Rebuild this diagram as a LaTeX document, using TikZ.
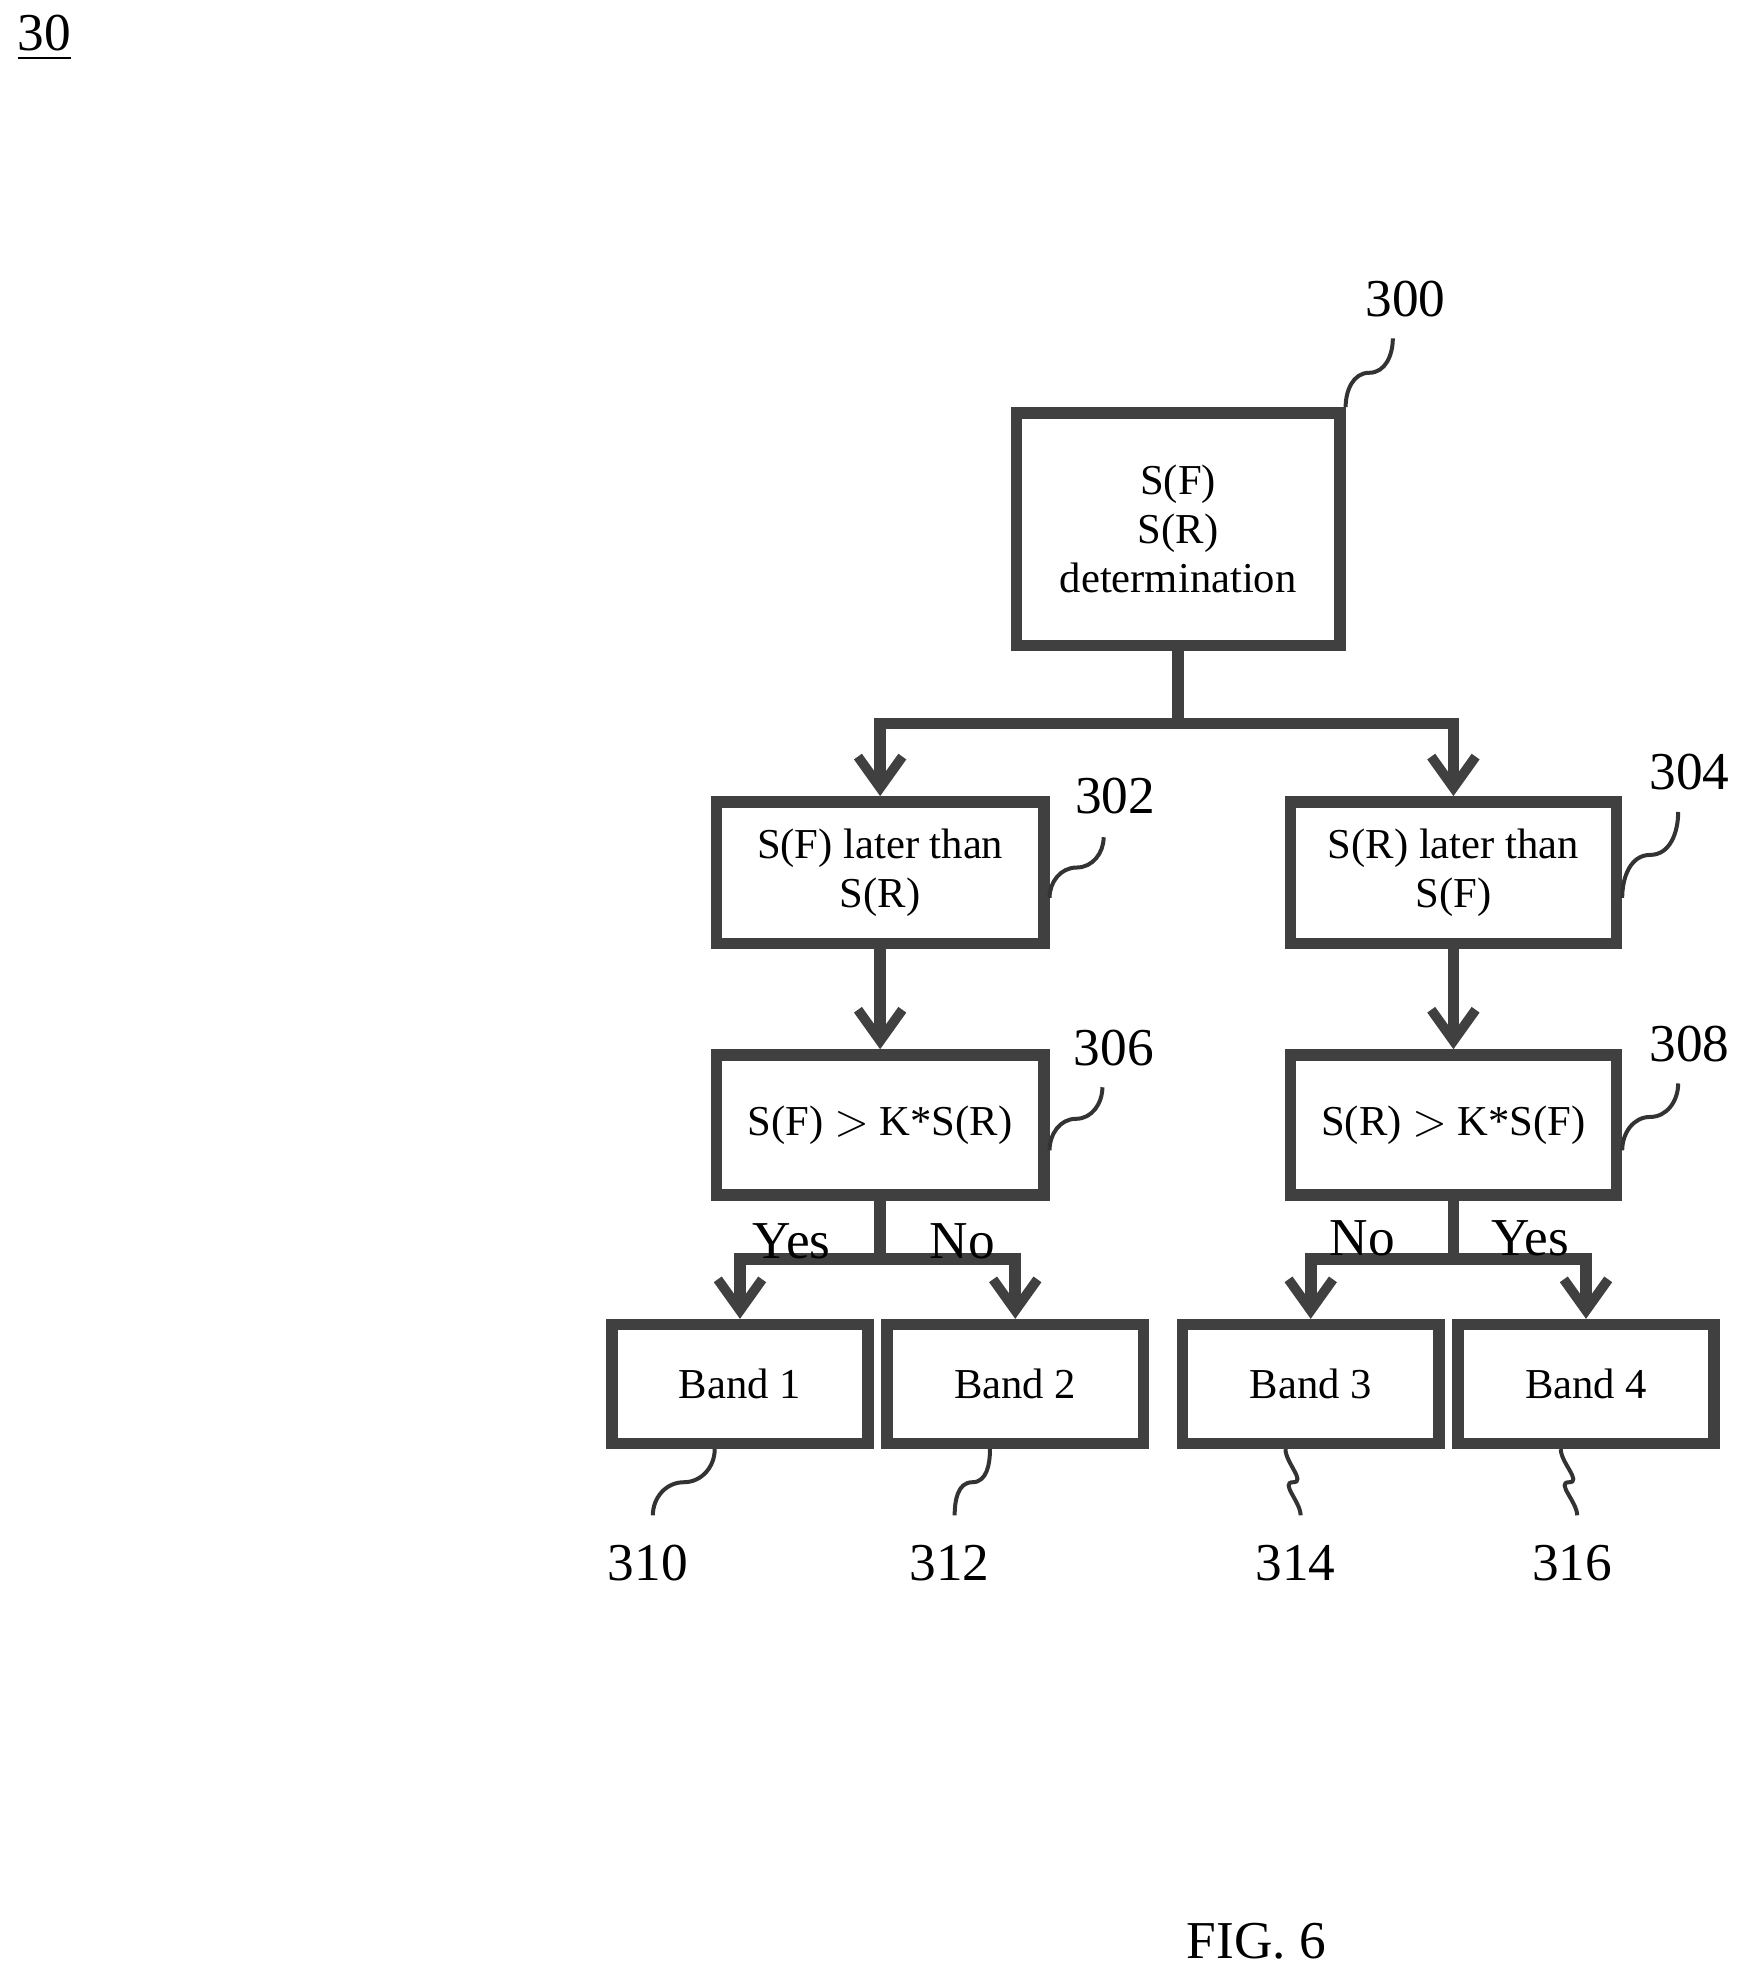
\documentclass[tikz,border=0pt]{standalone}
\usepackage{fontspec}
\setmainfont{Liberation Serif}
\usetikzlibrary{arrows.meta,calc}

\begin{document}
\begin{tikzpicture}[x=0.01cm,y=-0.01cm,
    box/.style={draw=black!75,line width=2.6pt,inner sep=0pt,align=center,font=\fontsize{9.6}{11}\selectfont},
    link/.style={draw=black!75,line width=2.6pt,-{Straight Barb[length=7pt,width=10pt,line width=2.2pt]}},
    ref/.style={font=\fontsize{12}{14}\selectfont},
    tick/.style={draw=black!80,line width=0.9pt},
    answer/.style={font=\fontsize{12}{14}\selectfont}]
  \useasboundingbox (0,0) rectangle (1384,1568);
  % title and caption
  \node[font=\fontsize{12}{14}\selectfont] (fig) at (35,30) {\underline{30}};
  \node[font=\fontsize{12}{14}\selectfont] (cap) at (995,1537) {FIG. 6};

  % boxes
  \node[box,minimum width=2.56cm,minimum height=1.84cm] (n300) at (933,419) {S(F)\\S(R)\\determination};
  \node[box,minimum width=2.59cm,minimum height=1.12cm] (n302) at (697,691) {S(F) later than\\S(R)};
  \node[box,minimum width=2.58cm,minimum height=1.12cm] (n304) at (1151,691) {S(R) later than\\S(F)};
  \node[box,minimum width=2.59cm,minimum height=1.11cm] (n306) at (697,891) {S(F) $>$ K*S(R)};
  \node[box,minimum width=2.58cm,minimum height=1.11cm] (n308) at (1151,891) {S(R) $>$ K*S(F)};
  \node[box,minimum width=2.03cm,minimum height=0.94cm] (n310) at (586,1096) {Band 1};
  \node[box,minimum width=2.03cm,minimum height=0.94cm] (n312) at (804,1096) {Band 2};
  \node[box,minimum width=2.03cm,minimum height=0.94cm] (n314) at (1038,1096) {Band 3};
  \node[box,minimum width=2.03cm,minimum height=0.94cm] (n316) at (1256,1096) {Band 4};

  % connectors
  \coordinate (j0) at (933,573);
  \coordinate (j1) at (697,997);
  \coordinate (j2) at (1151,997);
  \draw[draw=black!75,line width=2.6pt] (n300.south) -- (j0);
  \draw[link] (j0) -| (n302.north);
  \draw[link] (j0) -| (n304.north);
  \draw[link] (n302) -- (n306);
  \draw[link] (n304) -- (n308);
  \draw[draw=black!75,line width=2.6pt] (n306.south) -- (j1);
  \draw[draw=black!75,line width=2.6pt] (n308.south) -- (j2);
  \draw[link] (j1) -| (n310.north);
  \draw[link] (j1) -| (n312.north);
  \draw[link] (j2) -| (n314.north);
  \draw[link] (j2) -| (n316.north);
  \node[answer] (y1) at (627,983) {Yes};
  \node[answer] (o1) at (762,983) {No};
  \node[answer] (o2) at (1079,981) {No};
  \node[answer] (y2) at (1212,981) {Yes};

  % reference numerals
  \node[ref] (r300) at (1113,237) {300};
  \node[ref] (r302) at (883,630) {302};
  \node[ref] (r304) at (1338,611) {304};
  \node[ref] (r306) at (882,830) {306};
  \node[ref] (r308) at (1338,827) {308};
  \node[ref] (r310) at (513,1238) {310};
  \node[ref] (r312) at (752,1238) {312};
  \node[ref] (r314) at (1026,1238) {314};
  \node[ref] (r316) at (1245,1238) {316};
  \coordinate (e300) at (1103,268);
  \coordinate (e302) at (874,663);
  \coordinate (e304) at (1329,643);
  \coordinate (e306) at (873,861);
  \coordinate (e308) at (1329,858);
  \coordinate (e310) at (517,1200);
  \coordinate (e312) at (756,1200);
  \coordinate (e314) at (1030,1200);
  \coordinate (e316) at (1249,1200);
  \coordinate (s300) at (n300.north east);
  \foreach \n in {302,304,306,308}
    \coordinate (s\n) at ($(n\n.east)+(0,20)$);
  \foreach \n in {310,312,314,316}
    \coordinate (s\n) at ($(n\n.south)+(-20,0)$);
  \foreach \n in {300,302,304,306,308}
    \draw[tick] (s\n) to[out=90,in=180] ($(s\n)!0.5!(e\n)$) to[out=0,in=-90] (e\n);
  \foreach \n in {310,312,314,316}
    \draw[tick] (s\n) to[out=-90,in=0] ($(s\n)!0.5!(e\n)$) to[out=180,in=90] (e\n);
\end{tikzpicture}
\end{document}
